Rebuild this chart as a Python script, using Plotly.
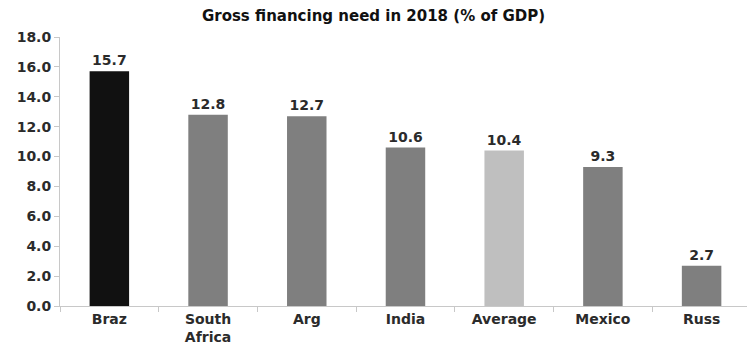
import plotly.graph_objects as go

# Gross financing need in 2018, % of GDP
countries = ["Braz", "South<br>Africa", "Arg", "India", "Average", "Mexico", "Russ"]
values = [15.7, 12.8, 12.7, 10.6, 10.4, 9.3, 2.7]
bar_colors = ["#111111", "#7f7f7f", "#7f7f7f", "#7f7f7f", "#bfbfbf", "#7f7f7f", "#7f7f7f"]

y_ticks = [0, 2, 4, 6, 8, 10, 12, 14, 16, 18]

font_family = "DejaVu Sans, Verdana, sans-serif"
text_color = "#2b2b2b"

fig = go.Figure(
    go.Bar(
        x=countries,
        y=values,
        marker=dict(color=bar_colors, line=dict(width=0)),
        width=0.4,
        text=[f"<b>{v:.1f}</b>" for v in values],
        textposition="outside",
        textfont=dict(family=font_family, size=14, color=text_color),
        cliponaxis=False,
    )
)

fig.update_layout(
    width=747,
    height=351,
    margin=dict(l=60, r=0, t=37, b=45),
    paper_bgcolor="white",
    plot_bgcolor="white",
    showlegend=False,
    bargap=0.6,
    title=dict(
        text="<b>Gross financing need in 2018 (% of GDP)</b>",
        x=0.5,
        xanchor="center",
        y=0.955,
        yanchor="middle",
        font=dict(family=font_family, size=15, color="#111111"),
    ),
    font=dict(family=font_family, color=text_color),
)

fig.update_xaxes(
    type="category",
    range=[-0.5, 6.46],
    showline=True,
    linecolor="#c8c8c8",
    linewidth=1,
    ticks="outside",
    tickson="boundaries",
    ticklen=5,
    tickcolor="#c8c8c8",
    showgrid=False,
    tickvals=countries,
    ticktext=[f"<b>{c}</b>" for c in countries],
    tickfont=dict(family=font_family, size=14, color=text_color),
)

fig.update_yaxes(
    range=[0, 18],
    tickvals=y_ticks,
    ticktext=[f"<b>{t:.1f}</b>" for t in y_ticks],
    showline=True,
    linecolor="#c8c8c8",
    linewidth=1,
    ticks="outside",
    ticklen=5,
    tickcolor="#c8c8c8",
    showgrid=False,
    zeroline=False,
    tickfont=dict(family=font_family, size=14, color=text_color),
)

fig.write_html("out.html")
